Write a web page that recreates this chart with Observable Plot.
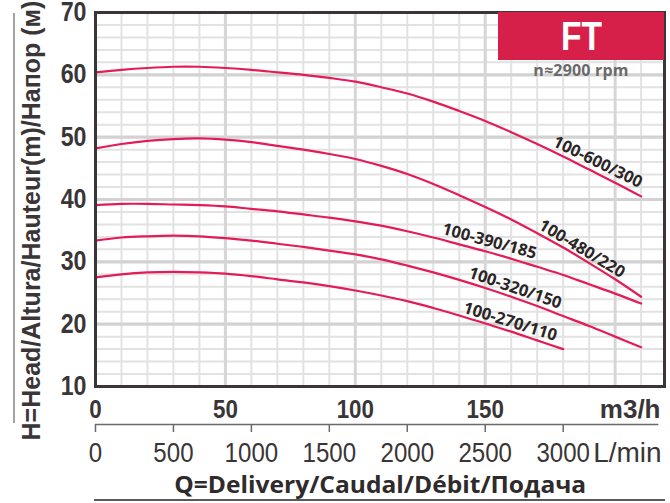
<!DOCTYPE html>
<html><head><meta charset="utf-8">
<script src="https://cdn.jsdelivr.net/npm/d3@7"></script>
<script src="https://cdn.jsdelivr.net/npm/@observablehq/plot@0.6"></script>
<style>
body{margin:0;background:#fff;}
#wrap{position:relative;width:670px;height:503px;overflow:hidden;background:#fff;}
#wrap svg{position:absolute;left:0;overflow:visible;}
.ft{position:absolute;left:498px;top:12px;width:166px;height:48px;background:#d62049;color:#fff;
  font-family:"Liberation Sans",Arial,sans-serif;font-weight:bold;font-size:40px;
  display:flex;align-items:center;justify-content:center;line-height:1;}
.ft span{display:inline-block;transform:scaleX(0.84);}
.rpm{position:absolute;left:498px;top:61px;width:166px;text-align:center;color:#6a6a6a;
  font-family:"Open Sans","Noto Sans",sans-serif;font-weight:bold;font-size:16px;letter-spacing:0.2px;line-height:18px;}
.vline{position:absolute;left:13px;top:13px;width:2px;height:410px;background:#a3a3a3;}
.qtitle{position:absolute;left:95px;width:570px;top:469px;text-align:center;color:#2f2a2b;
  font-family:"Open Sans","Noto Sans",sans-serif;font-weight:bold;font-size:24px;line-height:30px;}
.qtitle span{display:inline-block;transform-origin:50% 50%;}
.uline{position:absolute;left:94px;width:571px;top:499px;height:2px;background:#5a5a5a;}
</style></head><body><div id="wrap"></div><script>
// ---- data ----
const flowM3h = [0,10,20,30,40,50,60,70,80,90,100,110,120,130,140,150,160,170,180,190,200,210];
const head600 = [60.4,60.8,61.1,61.3,61.3,61.1,60.8,60.4,60.0,59.5,58.9,58.0,57.0,55.7,54.2,52.6,50.8,48.9,46.9,44.8,42.7,40.5];
const head480 = [48.2,48.9,49.4,49.7,49.8,49.6,49.2,48.6,48.0,47.3,46.5,45.4,44.1,42.5,40.7,38.8,36.8,34.6,32.3,29.8,27.2,24.4];
const head390 = [39.1,39.3,39.3,39.2,39.1,38.9,38.5,38.1,37.6,37.1,36.5,35.8,34.9,33.9,32.8,31.7,30.5,29.2,27.9,26.4,24.9,23.3];
const head320 = [33.4,33.9,34.1,34.2,34.1,33.8,33.4,32.9,32.4,31.8,31.2,30.4,29.4,28.3,27.1,25.8,24.4,22.9,21.3,19.7,18.0,16.3];
const head270 = [27.5,28.0,28.3,28.4,28.3,28.1,27.7,27.2,26.7,26.1,25.4,24.6,23.7,22.6,21.4,20.1,18.8,17.4,16.0];
const models = ["100-600/300","100-480/220","100-390/185","100-320/150","100-270/110"];
const yTicks = [10,20,30,40,50,60,70];
const xTicksM3h = [0,50,100,150];
const xTicksLmin = [0,500,1000,1500,2000,2500,3000];
const title = "Q=Delivery/Caudal/Débit/Подача";
const yTitle = "H=Head/Altura/Hauteur(m)/Напор (м)";
const speedNote = "n≈2900 rpm";
const series = "FT";

// label anchors along curves (data units)
const labelFlow = [193.3,187.2,151.6,161.5,159.6];
const labelHead = [46.0,32.1,33.3,25.8,20.4];
const labelAngle = [26,31,15,19,17];

// ---- build ----
const heads = [head600, head480, head390, head320, head270];
const table = [];
heads.forEach((arr, k) => arr.forEach((h, i) => table.push({model: models[k], q: flowM3h[i], h})));
const labels = models.map((m, k) => ({name: m, q: labelFlow[k], h: labelHead[k], angle: labelAngle[k]}));

const NUMF = '"Liberation Sans",Arial,sans-serif';
const SANS = '"Open Sans","Noto Sans",sans-serif';
const DARK = "#3a3536";
const CURVE = "#e31c58";
const X_MAX = 219;
const SX = 0.86;

const minorY = d3.range(12, 70, 2).filter(v => v % 10 !== 0);
const majorY = [20,30,40,50,60];
const minorX = d3.range(10, X_MAX, 10).filter(v => v % 50 !== 0);
const majorX = [50,100,150,200];

const main = Plot.plot({
  width: 670, height: 420,
  marginLeft: 95, marginRight: 6, marginTop: 12, marginBottom: 34,
  x: {domain: [0, X_MAX]},
  y: {domain: [10, 70]},
  style: {fontFamily: NUMF, color: DARK, background: "transparent"},
  marks: [
    Plot.ruleY(minorY, {stroke: "#e2e2e2", strokeWidth: 2}),
    Plot.ruleX(minorX, {stroke: "#e2e2e2", strokeWidth: 2}),
    Plot.ruleY(majorY, {stroke: "#d2d2d2", strokeWidth: 3.2}),
    Plot.ruleX(majorX, {stroke: "#d6d6d6", strokeWidth: 3}),
    Plot.line(table, {x: "q", y: "h", z: "model", stroke: CURVE, strokeWidth: 2.2, curve: "catmull-rom"}),
    Plot.text(labels, {x: "q", y: "h", text: "name", rotate: "angle", fontSize: 16.5, fontWeight: "bold", fontFamily: SANS, fill: "#2b2526", ariaLabel: "curve-label"}),
    Plot.frame({stroke: DARK, strokeWidth: 3}),
    Plot.axisY({ticks: yTicks, tickSize: 0, tickPadding: 9, fontSize: 27, fontWeight: "bold", fill: DARK, label: null, fontFamily: NUMF}),
    Plot.axisX({ticks: xTicksM3h, tickSize: 0, tickPadding: 13, fontSize: 26, fontWeight: "bold", fill: DARK, label: null, fontFamily: NUMF}),
    Plot.text(["m3/h"], {text: d => d, frameAnchor: "bottom-right", textAnchor: "end", lineAnchor: "top", dy: 13, dx: -4, fontSize: 26, fontWeight: "bold", fill: DARK, fontFamily: NUMF, ariaLabel: "unit-label"}),
    Plot.text([yTitle], {text: d => d, frameAnchor: "left", rotate: -90, dx: -64, dy: 21, textAnchor: "middle", lineAnchor: "middle", fontSize: 25, fontWeight: "bold", fill: DARK, fontFamily: NUMF, ariaLabel: "y-title"})
  ]
});

const lminMax = X_MAX * 1000 / 60;
const lower = Plot.plot({
  width: 670, height: 50,
  marginLeft: 95, marginRight: 6, marginTop: 4, marginBottom: 46,
  x: {domain: [0, lminMax]},
  y: {axis: null},
  style: {fontFamily: NUMF, color: DARK, background: "transparent"},
  marks: [
    Plot.ruleY([0], {stroke: "#6a6a6a", strokeWidth: 1.5, x1: 0, x2: lminMax * 0.99}),
    Plot.axisX({ticks: xTicksLmin, tickFormat: d => String(d), tickSize: 8, tickPadding: 10, stroke: "#6a6a6a", strokeWidth: 1.5, fontSize: 28, fontWeight: "normal", fill: DARK, label: null, fontFamily: NUMF}),
    Plot.text(["L/min"], {text: d => d, x: 3000, frameAnchor: "bottom", textAnchor: "start", lineAnchor: "top", dx: 30, dy: 18, fontSize: 28, fill: DARK, fontFamily: NUMF, ariaLabel: "unit-label"})
  ]
});

function condense(root, sel, sx) {
  root.querySelectorAll(sel).forEach(el => {
    let t = el.getAttribute("transform");
    if (!t) {
      const x = el.getAttribute("x") || 0, y = el.getAttribute("y") || 0;
      t = `translate(${x},${y})`;
      el.removeAttribute("x"); el.removeAttribute("y");
    }
    el.setAttribute("transform", `${t} scale(${sx},1)`);
  });
}

const wrap = document.getElementById("wrap");
main.style.top = "0px";
lower.style.top = "420px";
wrap.appendChild(main);
wrap.appendChild(lower);

const numSel = 'g[aria-label="y-axis tick label"] text, g[aria-label="x-axis tick label"] text, g[aria-label="unit-label"] text';
condense(main, numSel, SX);
condense(lower, numSel, SX);
// y title: size so its natural length stays within the picture, then fit to the reference length
const yt = main.querySelector('g[aria-label="y-title"] text');
if (yt) {
  const len0 = yt.getComputedTextLength();
  const natural = 422;
  if (len0 > natural) yt.setAttribute("font-size", (25 * natural / len0).toFixed(2));
  const len1 = yt.getComputedTextLength();
  condense(main, 'g[aria-label="y-title"] text', 400 / len1);
}

const mk = (cls, txt) => { const d = document.createElement("div"); d.className = cls; if (txt) d.textContent = txt; wrap.appendChild(d); return d; };
mk("vline");
const ft = mk("ft"); const fs = document.createElement("span"); fs.textContent = series; ft.appendChild(fs);
mk("rpm", speedNote);
const qt = mk("qtitle"); const qs = document.createElement("span"); qs.textContent = title; qt.appendChild(qs);
const qw = qs.getBoundingClientRect().width;
if (qw > 0) qs.style.transform = `scaleX(${412 / qw})`;
mk("uline");
</script></body></html>
